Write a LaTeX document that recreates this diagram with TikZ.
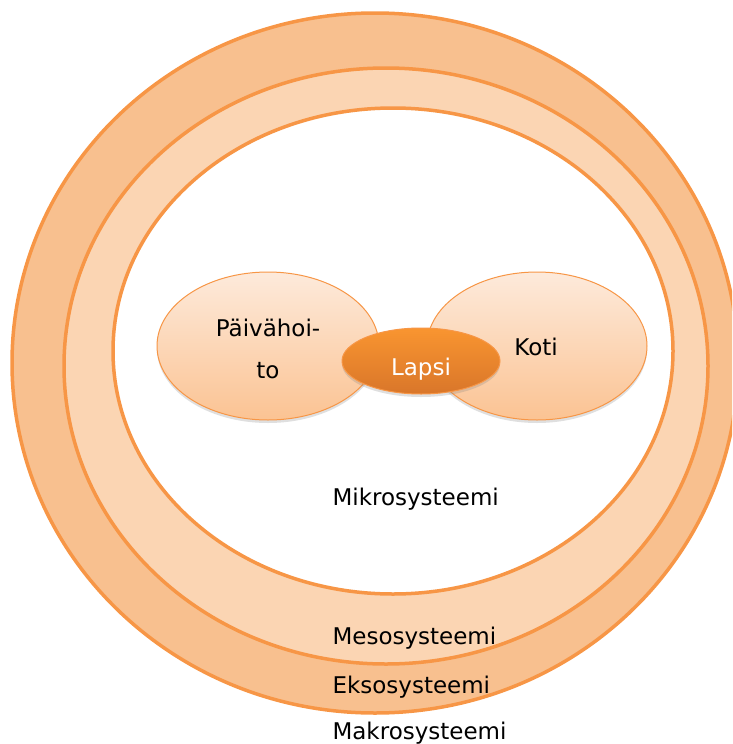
\documentclass[tikz,border=0pt]{standalone}
\usepackage{fontspec}
\setmainfont{DejaVu Sans}
\usetikzlibrary{shapes.geometric,shadows}
\definecolor{ring}{HTML}{F79646}
\definecolor{outerfill}{HTML}{F8C08F}
\definecolor{midfill}{HTML}{FBD5B3}
\definecolor{bubtop}{HTML}{FDEADB}
\definecolor{bubbot}{HTML}{FBC393}
\definecolor{laptop}{HTML}{F99530}
\definecolor{lapbot}{HTML}{D9762A}
\tikzset{
  layer/.style={ellipse, draw=ring, line width=3.5pt, inner sep=0pt},
  bubble/.style={ellipse, draw=ring, line width=1pt, top color=bubtop, bottom color=bubbot, inner sep=0pt,
     drop shadow={shadow xshift=0pt, shadow yshift=-3pt, opacity=0.25}},
  lapsi/.style={ellipse, draw=ring, line width=1pt, top color=laptop, bottom color=lapbot, inner sep=0pt,
     drop shadow={shadow xshift=0pt, shadow yshift=-3pt, opacity=0.25}},
  lbl/.style={font=\fontsize{23}{27}\selectfont, text=black},
}
\begin{document}
\begin{tikzpicture}[x=1pt,y=-1pt]
\useasboundingbox (0,0) rectangle (732,744);
\clip (0,0) rectangle (732,744);
\node[layer, fill=outerfill, minimum width=726pt, minimum height=700pt] (macro) at (375,363) {};
\node[layer, fill=midfill, minimum width=644pt, minimum height=596pt] (meso) at (386,366) {};
\node[layer, fill=white, minimum width=560pt, minimum height=486pt] (mikro) at (393,351) {};
\node[bubble, minimum width=222pt, minimum height=148pt] (paiva) at (268,346) {};
\node[bubble, minimum width=220pt, minimum height=148pt] (koti) at (537,346) {};
\node[lapsi, minimum width=158pt, minimum height=66pt] (lapsi) at (421,361) {};
\node[lbl] (tp1) at (268,328) {Päivähoi-};
\node[lbl] (tp2) at (268,371) {to};
\node[lbl] (tk) at (536,347) {Koti};
\node[lbl, text=white] (tl) at (421,369) {Lapsi};
\node[lbl, anchor=west] (tmi) at (329,499) {Mikrosysteemi};
\node[lbl, anchor=west] (tme) at (329,638) {Mesosysteemi};
\node[lbl, anchor=west] (tek) at (329,687) {Eksosysteemi};
\node[lbl, anchor=west] (tma) at (329,733) {Makrosysteemi};
\end{tikzpicture}
\end{document}
